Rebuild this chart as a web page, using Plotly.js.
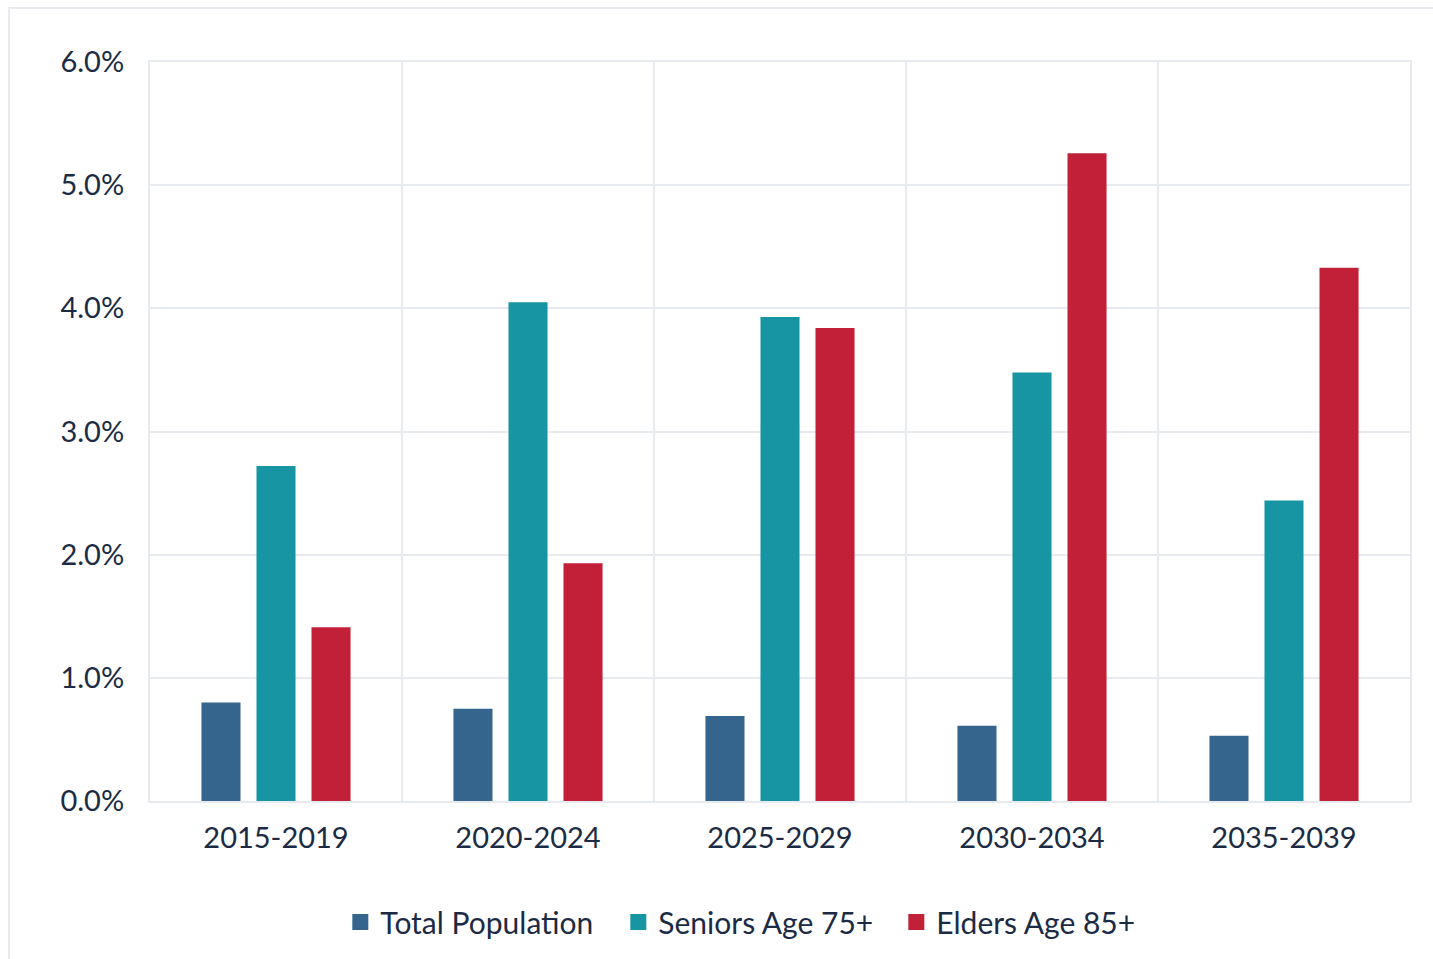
<!DOCTYPE html>
<html>
<head>
<meta charset="utf-8">
<script src="https://cdn.plot.ly/plotly-3.0.1.min.js"></script>
<style>
  html, body { margin: 0; padding: 0; background: #fff; }
  #wrap { position: relative; width: 1433px; height: 959px; overflow: hidden; }
  #chart { width: 1433px; height: 959px; }
  #frame { position: absolute; left: 8px; top: 7px; width: 1500px; height: 1000px;
           border-left: 2px solid #E7EBF0; border-top: 2px solid #E7EBF0; pointer-events: none; }
</style>
</head>
<body>
<div id="wrap">
  <div id="chart"></div>
  <div id="frame"></div>
</div>
<script>
const categories = ["2015-2019", "2020-2024", "2025-2029", "2030-2034", "2035-2039"];
const totalPopulation = [0.0080, 0.0075, 0.0069, 0.0061, 0.0053];
const seniors75 = [0.0272, 0.0405, 0.0393, 0.0348, 0.0244];
const elders85 = [0.0141, 0.0193, 0.0384, 0.0526, 0.0433];
const seriesNames = ["Total Population", "Seniors Age 75+", "Elders Age 85+"];
const seriesColors = ["#35658D", "#1795A3", "#C22039"];
const yTickVals = [0, 0.01, 0.02, 0.03, 0.04, 0.05, 0.06];

const fontFam = "Lato, 'Liberation Sans', sans-serif";
const textColor = "#1C2B45";
const gridColor = "#E7EBF0";

const seriesValues = [totalPopulation, seniors75, elders85];
const traces = [];
seriesValues.forEach((vals, i) => {
  traces.push({ type: "bar", name: seriesNames[i], x: categories, y: vals,
                marker: { color: seriesColors[i] }, showlegend: false, legendgroup: "g" + i });
});
// legend entries with larger square swatches
seriesValues.forEach((vals, i) => {
  traces.push({ type: "scatter", mode: "markers", name: seriesNames[i], x: [null], y: [null],
                marker: { color: seriesColors[i], symbol: "square", size: 16 },
                showlegend: true, legendgroup: "g" + i, hoverinfo: "skip" });
});

const layout = {
  width: 1433, height: 959,
  margin: { l: 150, r: 23, t: 62, b: 157 },
  paper_bgcolor: "rgba(0,0,0,0)",
  plot_bgcolor: "#fff",
  barmode: "group",
  bargap: 0.345,
  bargroupgap: 0.29,
  font: { family: fontFam, color: textColor, size: 29 },
  showlegend: true,
  legend: {
    orientation: "h", x: 0.482, xanchor: "center", y: -0.162, yanchor: "middle",
    font: { family: fontFam, size: 30, color: textColor },
    itemwidth: 30, tracegroupgap: 0, entrywidth: 233, entrywidthmode: "pixels"
  },
  xaxis: {
    type: "category",
    tickson: "boundaries",
    showgrid: true, gridcolor: gridColor, gridwidth: 2,
    showline: true, linecolor: gridColor, linewidth: 2, mirror: true,
    ticks: "", ticklabelstandoff: 10,
    tickfont: { family: fontFam, size: 29, color: textColor },
    zeroline: false
  },
  yaxis: {
    range: [0, 0.06],
    tickvals: yTickVals,
    tickformat: ".1%",
    showgrid: true, gridcolor: gridColor, gridwidth: 2,
    showline: true, linecolor: gridColor, linewidth: 2, mirror: true,
    ticks: "", ticklabelstandoff: 18,
    tickfont: { family: fontFam, size: 29, color: textColor },
    zeroline: false
  }
};

Plotly.newPlot("chart", traces, layout, { displayModeBar: false, staticPlot: true });
</script>
</body>
</html>
